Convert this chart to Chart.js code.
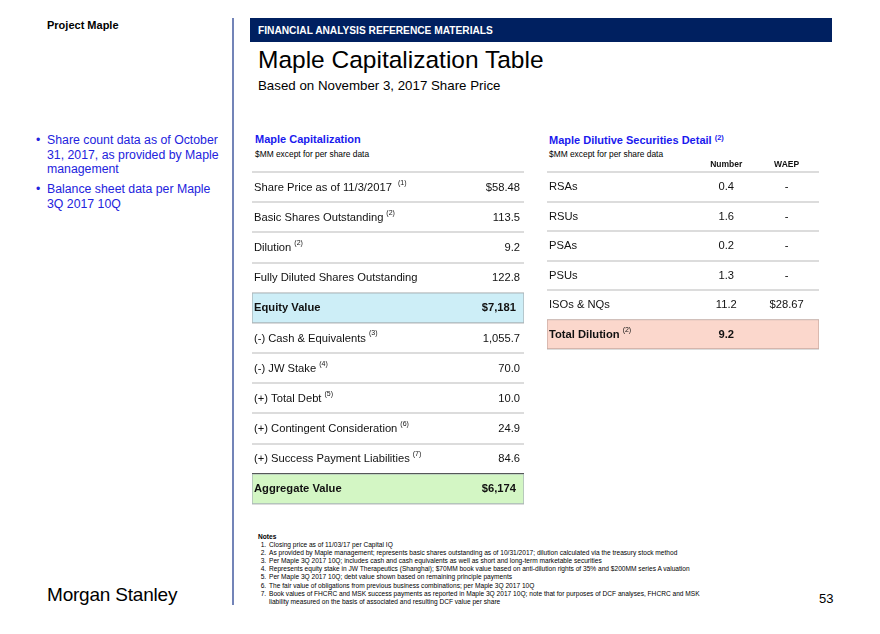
<!DOCTYPE html>
<html>
<head>
<meta charset="utf-8">
<title>Maple Capitalization Table</title>
<script src="https://cdn.jsdelivr.net/npm/chart.js@4.4.1/dist/chart.umd.min.js"></script>
<style>
    body { margin: 0; width: 880px; height: 634px; background: #fff; position: relative; overflow: hidden;
           font-family: "Liberation Sans", Arial, sans-serif; color: #000; }
    .abs { position: absolute; white-space: nowrap; }
    #project { left: 47px; top: 19px; font-size: 11px; font-weight: bold; }
    #divider { left: 232px; top: 18px; width: 2px; height: 587px; background: #7384b8; }
    #band { left: 250px; top: 18px; width: 582px; height: 24px; background: #002060; color: #fff;
            font-size: 10.2px; font-weight: bold; line-height: 25px; padding-left: 8px; box-sizing: border-box; }
    #title { left: 258px; top: 46px; font-size: 24.5px; }
    #subtitle { left: 258px; top: 78px; font-size: 13.3px; }
    .bullets { left: 36px; top: 133px; font-size: 12.3px; color: #2323dd; line-height: 14.7px; }
    .bullets div { position: relative; padding-left: 11px; margin-bottom: 5px; }
    .bullets div::before { content: "\2022"; position: absolute; left: 0; top: 0; }
    .tbl-title { font-size: 11px; font-weight: bold; color: #1a1aee; }
    .tbl-title sup { font-size: 7.5px; vertical-align: 4px; }
    .tbl-sub { font-size: 8.4px; }
    #notes { left: 258px; top: 533px; font-size: 6.6px; line-height: 8.1px; }
    #notes ol { margin: 0; padding-left: 10px; }
    #notes li { padding-left: 1px; }
    #logo { left: 47px; top: 584px; font-size: 19px; letter-spacing: -0.2px; }
    #page { left: 819px; top: 591px; font-size: 13px; }
    canvas { position: absolute; }
</style>
</head>
<body>
<div id="project" class="abs">Project Maple</div>
<div id="divider" class="abs"></div>
<div id="band" class="abs">FINANCIAL ANALYSIS REFERENCE MATERIALS</div>
<div id="title" class="abs">Maple Capitalization Table</div>
<div id="subtitle" class="abs">Based on November 3, 2017 Share Price</div>

<div class="abs bullets">
    <div>Share count data as of October<br>31, 2017, as provided by Maple<br>management</div>
    <div>Balance sheet data per Maple<br>3Q 2017 10Q</div>
</div>

<div class="abs tbl-title" style="left:255px; top:133px;">Maple Capitalization</div>
<div class="abs tbl-sub" style="left:255px; top:149px;">$MM except for per share data</div>
<div class="abs tbl-title" style="left:549px; top:133px;">Maple Dilutive Securities Detail <sup>(2)</sup></div>
<div class="abs tbl-sub" style="left:549px; top:149px;">$MM except for per share data</div>

<canvas id="cap-chart" width="274" height="336" style="left:251px; top:170px;"></canvas>
<canvas id="dil-chart" width="274" height="195" style="left:546px; top:156px;"></canvas>

<div id="notes" class="abs">
    <b>Notes</b>
    <ol>
        <li>Closing price as of 11/03/17 per Capital IQ</li>
        <li>As provided by Maple management; represents basic shares outstanding as of 10/31/2017; dilution calculated via the treasury stock method</li>
        <li>Per Maple 3Q 2017 10Q; includes cash and cash equivalents as well as short and long-term marketable securities</li>
        <li>Represents equity stake in JW Therapeutics (Shanghai); $70MM book value based on anti-dilution rights of 35% and $200MM series A valuation</li>
        <li>Per Maple 3Q 2017 10Q; debt value shown based on remaining principle payments</li>
        <li>The fair value of obligations from previous business combinations; per Maple 3Q 2017 10Q</li>
        <li>Book values of FHCRC and MSK success payments as reported in Maple 3Q 2017 10Q; note that for purposes of DCF analyses, FHCRC and MSK<br>liability measured on the basis of associated and resulting DCF value per share</li>
    </ol>
</div>

<div id="logo" class="abs">Morgan Stanley</div>
<div id="page" class="abs">53</div>

<script>
// Maple capitalization rows
const capLabels = [
    'Share Price as of 11/3/2017 ',
    'Basic Shares Outstanding',
    'Dilution',
    'Fully Diluted Shares Outstanding',
    'Equity Value',
    '(-) Cash & Equivalents',
    '(-) JW Stake',
    '(+) Total Debt',
    '(+) Contingent Consideration',
    '(+) Success Payment Liabilities',
    'Aggregate Value'
];
const capNotes = ['(1)', '(2)', '(2)', '', '', '(3)', '(4)', '(5)', '(6)', '(7)', ''];
const capValues = [58.48, 113.5, 9.2, 122.8, 7181, 1055.7, 70.0, 10.0, 24.9, 84.6, 6174];
const capTotalRows = ['Equity Value', 'Aggregate Value'];

// Dilutive securities rows
const dilLabels = ['RSAs', 'RSUs', 'PSAs', 'PSUs', 'ISOs & NQs', 'Total Dilution'];
const dilNotes = ['', '', '', '', '', '(2)'];
const dilNumbers = [0.4, 1.6, 0.2, 1.3, 11.2, 9.2];
const dilWaep = [null, null, null, null, 28.67, null];
const dilColumns = ['Number', 'WAEP'];
const dilTotalRows = ['Total Dilution'];

const FONT = '"Liberation Sans", Arial, sans-serif';
const rowFills = {
    'Equity Value': '#cdeef7',
    'Aggregate Value': '#d3f6c4',
    'Total Dilution': '#fbd7cc'
};

// Format number with commas and decimals
function formatNumber(n, decimals = 1) {
    return n.toLocaleString('en-US', {
        minimumFractionDigits: decimals,
        maximumFractionDigits: decimals
    });
}

function formatCap(label, v) {
    if (label.startsWith('Share Price')) return '$' + v.toFixed(2);
    if (capTotalRows.includes(label)) return '$' + formatNumber(v, 0);
    return formatNumber(v, 1);
}

// Draws row labels, footnote marks and column values at scale positions
function cellPlugin(spec) {
    return {
        id: 'cellText',
        afterDatasetsDraw(chart) {
            const { ctx, scales: { x, y }, chartArea } = chart;
            ctx.save();
            ctx.fillStyle = '#111';
            ctx.textBaseline = 'middle';

            // column headers above the first row
            (spec.headers || []).forEach(h => {
                ctx.font = 'bold 8.5px ' + FONT;
                ctx.textAlign = 'center';
                ctx.fillText(h.text, x.getPixelForValue(h.at), chartArea.top - 7);
            });

            spec.labels.forEach((label, i) => {
                const py = y.getPixelForValue(i) + 0.5;
                const bold = spec.totals.includes(label);
                ctx.font = (bold ? 'bold ' : '') + '11.2px ' + FONT;
                ctx.textAlign = 'left';
                const lx = x.getPixelForValue(0) + 2;
                ctx.fillText(label, lx, py);
                if (spec.notes[i]) {
                    const w = ctx.measureText(label).width;
                    ctx.font = '7px ' + FONT;
                    ctx.fillText(spec.notes[i], lx + w + 3, py - 5);
                }
                spec.columns.forEach(col => {
                    const txt = col.values[i];
                    if (txt === '') return;
                    ctx.font = (bold ? 'bold ' : '') + '11.2px ' + FONT;
                    ctx.textAlign = col.align;
                    const inset = col.align === 'right' ? (bold ? 8 : 4) : 0;
                    ctx.fillText(txt, x.getPixelForValue(col.at) - inset, py);
                });
            });
            ctx.restore();
        }
    };
}

// Table frame: highlighted rows as full-width floating bars, separators from the grid
function tableChart(id, labels, totals, gridColor, gridWidth, padTop, plugin) {
    return new Chart(document.getElementById(id), {
        type: 'bar',
        data: {
            labels: labels,
            datasets: [{
                data: labels.map(l => rowFills[l] ? [0, 1] : null),
                backgroundColor: labels.map(l => rowFills[l] || 'transparent'),
                borderColor: labels.map(l => l === 'Total Dilution' ? '#c9aaa2' : '#a9b4b8'),
                borderWidth: 1,
                borderSkipped: false,
                barPercentage: 1,
                categoryPercentage: 1
            }]
        },
        options: {
            indexAxis: 'y',
            responsive: false,
            animation: false,
            layout: { padding: { top: padTop, bottom: 2, left: 1, right: 1 } },
            plugins: { legend: { display: false }, tooltip: { enabled: false } },
            scales: {
                x: { type: 'linear', min: 0, max: 1, display: false },
                y: {
                    type: 'category',
                    border: { display: false },
                    ticks: { display: false },
                    grid: {
                        offset: true,
                        drawTicks: false,
                        color: ctx => gridColor(ctx.index),
                        lineWidth: ctx => gridWidth(ctx.index)
                    }
                }
            }
        },
        plugins: [plugin]
    });
}

function init() {
    const aggIdx = capLabels.indexOf('Aggregate Value');
    tableChart('cap-chart', capLabels, capTotalRows,
        i => i === aggIdx ? '#3a3a3a' : (i > aggIdx ? 'transparent' : '#dcdcdc'),
        i => i === aggIdx ? 2.5 : 2,
        2,
        cellPlugin({
            labels: capLabels,
            notes: capNotes,
            totals: capTotalRows,
            columns: [{ at: 1, align: 'right', values: capLabels.map((l, i) => formatCap(l, capValues[i])) }]
        })
    );

    const totIdx = dilLabels.indexOf('Total Dilution');
    tableChart('dil-chart', dilLabels, dilTotalRows,
        i => i > totIdx ? 'transparent' : '#dcdcdc',
        () => 2,
        16,
        cellPlugin({
            labels: dilLabels,
            notes: dilNotes,
            totals: dilTotalRows,
            headers: [{ text: dilColumns[0], at: 0.659 }, { text: dilColumns[1], at: 0.881 }],
            columns: [
                { at: 0.659, align: 'center', values: dilNumbers.map(v => formatNumber(v, 1)) },
                { at: 0.881, align: 'center', values: dilWaep.map((v, i) =>
                    dilTotalRows.includes(dilLabels[i]) ? '' : (v === null ? '-' : '$' + v.toFixed(2))) }
            ]
        })
    );
}

document.addEventListener('DOMContentLoaded', init);
</script>
</body>
</html>
